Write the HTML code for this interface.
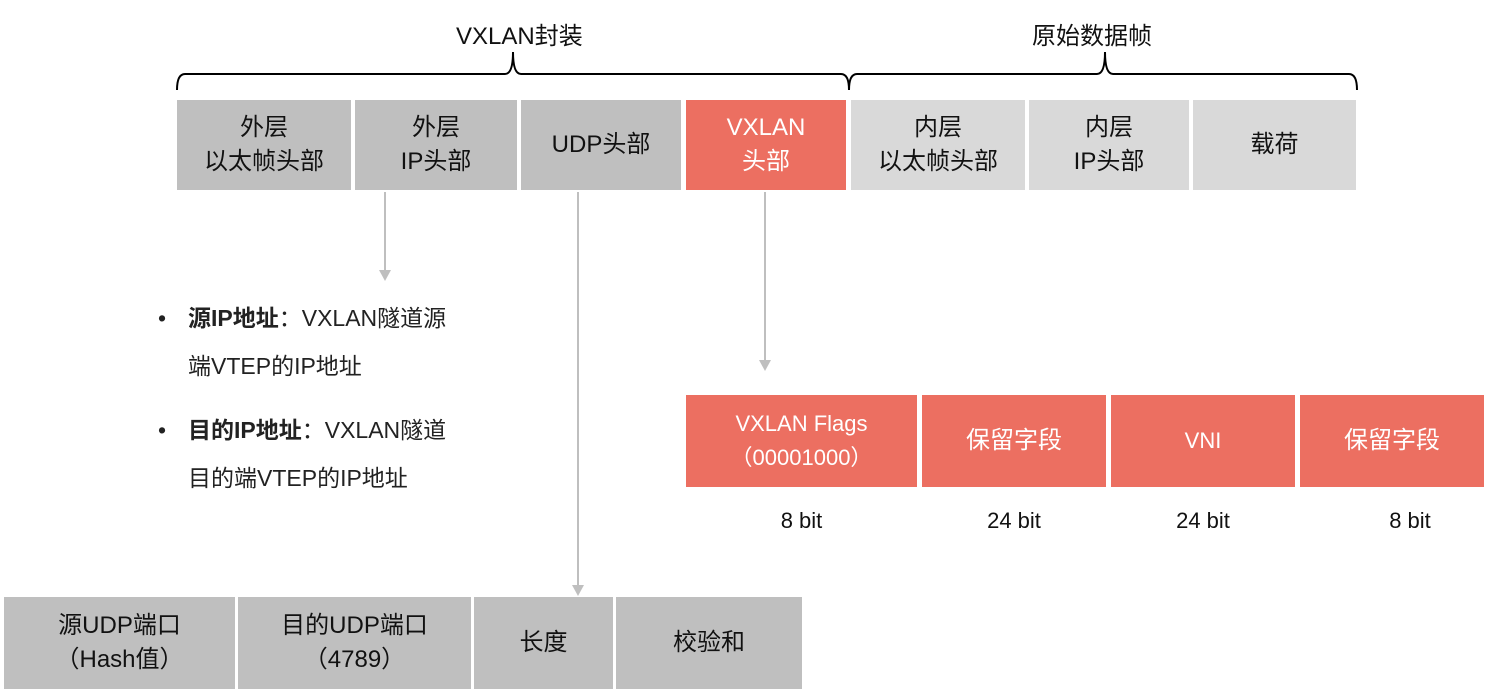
<!DOCTYPE html>
<html><head><meta charset="utf-8"><style>
body{margin:0;width:1489px;height:697px;background:#fff;position:relative;overflow:hidden;font-family:"Liberation Sans","Noto Sans CJK SC",sans-serif;}
.b{position:absolute;display:flex;align-items:center;justify-content:center;text-align:center;font-size:24px;line-height:34px;color:#111;}
.g{background:#bfbfbf}.l{background:#d9d9d9}.r{background:#ec6f61;color:#fff}
.t{position:absolute;font-size:24px;color:#111;}
.s{position:absolute;font-size:23px;color:#222;line-height:48px;}
</style></head><body>
<div class="t" style="left:456px;top:16px">VXLAN封装</div>
<div class="t" style="left:1032px;top:16px">原始数据帧</div>
<svg width="1489" height="697" style="position:absolute;left:0;top:0">
<g fill="none" stroke="#000" stroke-width="2">
<path d="M177,90 Q177,74 185,74 L505,74 Q513,74 513,52 Q513,74 521,74 L841,74 Q849,74 849,90"/>
<path d="M849,90 Q849,74 857,74 L1097,74 Q1105,74 1105,52 Q1105,74 1113,74 L1349,74 Q1357,74 1357,90"/>
</g>
<g stroke="#bfbfbf" stroke-width="2"><line x1="385" y1="192" x2="385" y2="272"/><line x1="578" y1="192" x2="578" y2="587"/><line x1="765" y1="192" x2="765" y2="362"/></g>
<g fill="#bfbfbf"><polygon points="379,270 391,270 385,281"/><polygon points="572,585 584,585 578,596"/><polygon points="759,360 771,360 765,371"/></g>
</svg>
<div class="b g" style="left:177px;top:100px;width:174px;height:90px">外层<br>以太帧头部</div>
<div class="b g" style="left:355px;top:100px;width:162px;height:90px">外层<br>IP头部</div>
<div class="b g" style="left:521px;top:100px;width:160px;height:90px">UDP头部</div>
<div class="b r" style="left:686px;top:100px;width:160px;height:90px">VXLAN<br>头部</div>
<div class="b l" style="left:851px;top:100px;width:174px;height:90px">内层<br>以太帧头部</div>
<div class="b l" style="left:1029px;top:100px;width:160px;height:90px">内层<br>IP头部</div>
<div class="b l" style="left:1193px;top:100px;width:163px;height:90px">载荷</div>
<div class="s" style="left:158px;top:294px">•</div>
<div class="s" style="left:188px;top:294px"><b>源IP地址</b>：VXLAN隧道源<br>端VTEP的IP地址</div>
<div class="s" style="left:158px;top:406px">•</div>
<div class="s" style="left:188px;top:406px"><b>目的IP地址</b>：VXLAN隧道<br>目的端VTEP的IP地址</div>
<div class="b r" style="left:686px;top:395px;width:231px;height:92px;font-size:22px">VXLAN Flags<br>（00001000）</div>
<div class="b r" style="left:922px;top:395px;width:184px;height:92px">保留字段</div>
<div class="b r" style="left:1111px;top:395px;width:184px;height:92px;font-size:22px">VNI</div>
<div class="b r" style="left:1300px;top:395px;width:184px;height:92px">保留字段</div>
<div class="b" style="left:686px;top:504px;width:231px;font-size:22px">8 bit</div>
<div class="b" style="left:922px;top:504px;width:184px;font-size:22px">24 bit</div>
<div class="b" style="left:1111px;top:504px;width:184px;font-size:22px">24 bit</div>
<div class="b" style="left:1300px;top:504px;width:220px;font-size:22px">8 bit</div>
<div class="b g" style="left:4px;top:597px;width:231px;height:92px">源UDP端口<br>（Hash值）</div>
<div class="b g" style="left:238px;top:597px;width:233px;height:92px">目的UDP端口<br>（4789）</div>
<div class="b g" style="left:474px;top:597px;width:139px;height:92px">长度</div>
<div class="b g" style="left:616px;top:597px;width:186px;height:92px">校验和</div>
</body></html>
